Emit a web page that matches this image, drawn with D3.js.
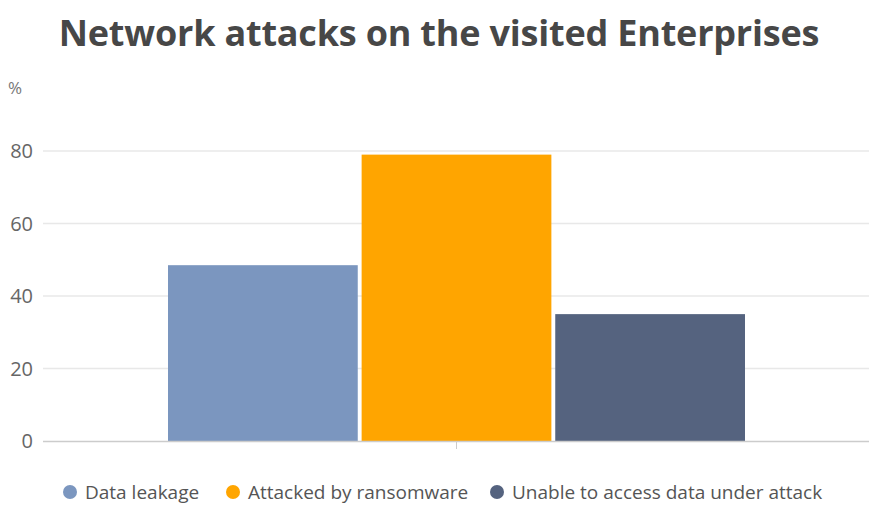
<!DOCTYPE html>
<html>
<head>
<meta charset="utf-8">
<script src="https://cdn.jsdelivr.net/npm/d3@7"></script>
<style>
  body { margin: 0; background: #fff; }
  text { font-family: "Open Sans", "Noto Sans", sans-serif; }
</style>
</head>
<body>
<div id="chart"></div>
<script>
const categories = ["Data leakage", "Attacked by ransomware", "Unable to access data under attack"];
const values = [48.5, 79, 35];
const colors = ["#7b96bf", "#ffa500", "#55637f"];
const yTicks = [0, 20, 40, 60, 80];

const W = 869, H = 507;
const margin = { top: 78, right: 0, bottom: 66, left: 43 };
const y0 = 441;

const svg = d3.select('#chart').append('svg')
  .attr('width', W)
  .attr('height', H);

svg.append('text')
  .attr('x', 439)
  .attr('y', 46)
  .attr('text-anchor', 'middle')
  .style('font-size', '36px')
  .style('font-weight', 'bold')
  .style('letter-spacing', '-0.2px')
  .style('fill', '#474747')
  .text('Network attacks on the visited Enterprises');

const y = d3.scaleLinear()
  .domain([0, 80])
  .range([y0, 151]);

const x = d3.scaleBand()
  .domain(categories)
  .range([168, 745])
  .paddingInner(0.02);

const g = svg.append('g');

// gridlines
g.selectAll('.grid')
  .data(yTicks.filter(d => d > 0))
  .enter().append('line')
  .attr('x1', margin.left)
  .attr('x2', W)
  .attr('y1', d => y(d))
  .attr('y2', d => y(d))
  .style('stroke', '#e8e8e8')
  .style('stroke-width', 1.5);

// y labels
g.selectAll('.ylab')
  .data(yTicks)
  .enter().append('text')
  .attr('x', 33)
  .attr('y', d => y(d) + 7)
  .attr('text-anchor', 'end')
  .style('font-size', '20px')
  .style('fill', '#666')
  .text(d => d);

svg.append('text')
  .attr('x', 8)
  .attr('y', 94)
  .style('font-size', '17px')
  .style('fill', '#777')
  .text('%');

// bars
g.selectAll('rect')
  .data(values)
  .enter().append('rect')
  .attr('x', (d, i) => x(categories[i]))
  .attr('y', d => y(d))
  .attr('width', x.bandwidth())
  .attr('height', d => y(0) - y(d))
  .style('fill', (d, i) => colors[i]);

// baseline
g.append('line')
  .attr('x1', margin.left)
  .attr('x2', W)
  .attr('y1', y0 + 0.5)
  .attr('y2', y0 + 0.5)
  .style('stroke', '#ccc')
  .style('stroke-width', 1.5);

g.append('line')
  .attr('x1', 456.5)
  .attr('x2', 456.5)
  .attr('y1', y0)
  .attr('y2', y0 + 8)
  .style('stroke', '#ccc');

// legend
const legendX = [70, 233, 497];
const legend = svg.append('g');
const items = legend.selectAll('g')
  .data(categories)
  .enter().append('g')
  .attr('transform', (d, i) => `translate(${legendX[i]}, 492)`);

items.append('circle')
  .attr('r', 7)
  .style('fill', (d, i) => colors[i]);

items.append('text')
  .attr('x', 15)
  .attr('y', 7)
  .style('font-size', '19px')
  .style('fill', '#555')
  .text(d => d);
</script>
</body>
</html>
